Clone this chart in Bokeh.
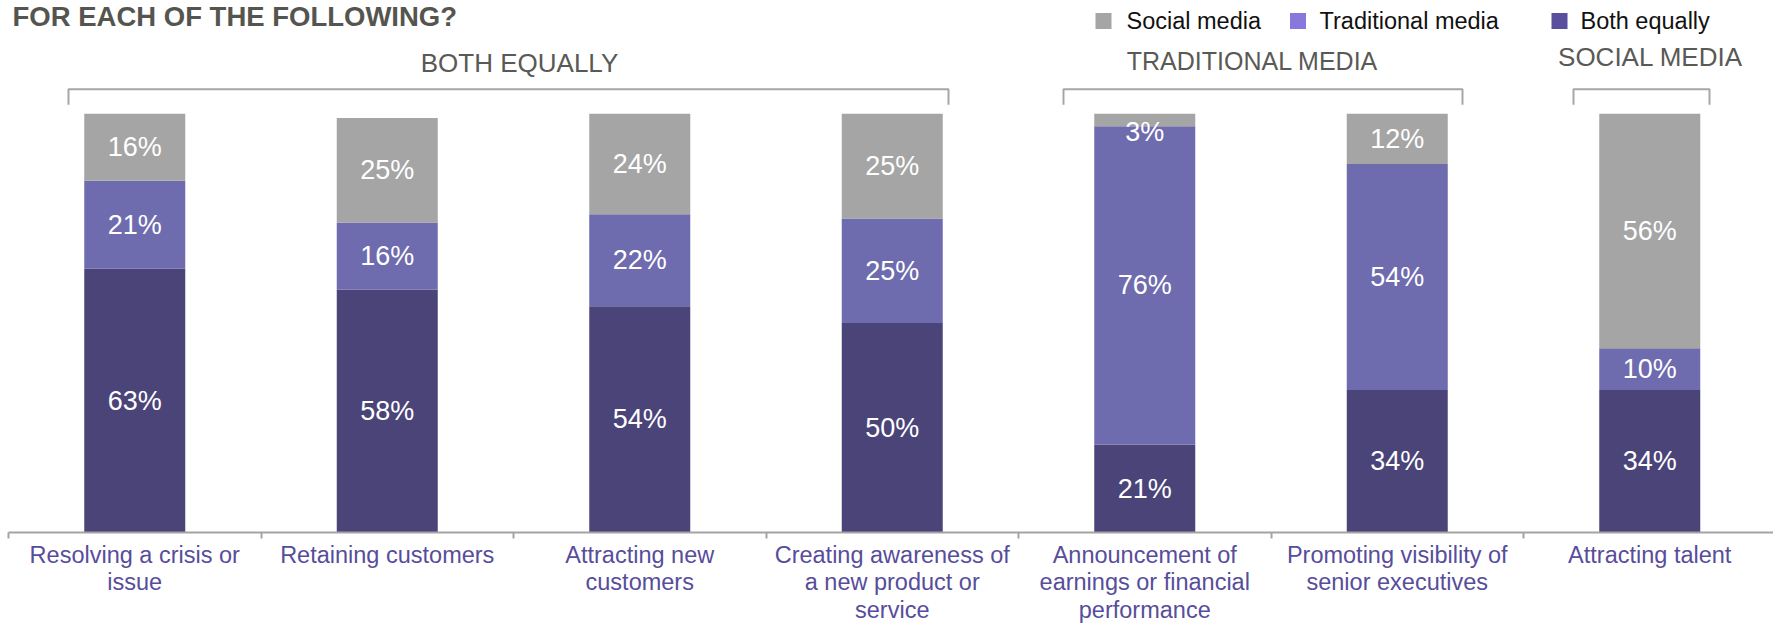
from bokeh.plotting import figure
from bokeh.models import Range1d, FixedTicker, LinearAxis, ColumnDataSource
from bokeh.core.properties import value
from bokeh.embed import file_html
from bokeh.resources import INLINE

# ---------------- data ----------------
categories = [
    "Resolving a crisis or\nissue",
    "Retaining customers",
    "Attracting new\ncustomers",
    "Creating awareness of\na new product or\nservice",
    "Announcement of\nearnings or financial\nperformance",
    "Promoting visibility of\nsenior executives",
    "Attracting talent",
]
both_equally = [63, 58, 54, 50, 21, 34, 34]
traditional_media = [21, 16, 22, 25, 76, 54, 10]
social_media = [16, 25, 24, 25, 3, 12, 56]
series_names = ["Social media", "Traditional media", "Both equally"]
group_names = ["BOTH EQUALLY", "TRADITIONAL MEDIA", "SOCIAL MEDIA"]
title_text = "FOR EACH OF THE FOLLOWING?"

# ---------------- style / layout ----------------
W, H = 1773, 626
LEFT = 8
AXIS_Y = 531                 # canvas px of axis line
PX_PER_UNIT = 4.18
CAT_W = 252.5
Y_TOP = AXIS_Y / PX_PER_UNIT
X_END = (W - LEFT) / CAT_W
FONT = "Liberation Sans"

bar_colors = ["#a5a5a5", "#6e6bae", "#4a4478"]
legend_colors = ["#a5a5a5", "#8878de", "#5a4f9e"]
label_purple = "#574d9b"
gray_text = "#595955"
bracket_color = "#a6a6a6"


def px_x(cx):
    return (cx - LEFT) / CAT_W


def px_y(cy):
    return (AXIS_Y - cy) / PX_PER_UNIT


p = figure(width=W, height=H, x_range=Range1d(0, X_END), y_range=Range1d(0, Y_TOP),
           output_backend="svg", toolbar_location=None,
           min_border_left=LEFT, min_border_right=0, min_border_top=0, min_border_bottom=0,
           x_axis_location=None, y_axis_location=None, background_fill_color="white")
p.grid.visible = False
p.outline_line_color = None

# stacked bars
xs = [i + 0.5 for i in range(len(categories))]
b0 = [0] * len(xs)
t0 = list(both_equally)
t1 = [a + b for a, b in zip(t0, traditional_media)]
t2 = [a + b for a, b in zip(t1, social_media)]
segments = [
    (b0, t0, bar_colors[2], both_equally),
    (t0, t1, bar_colors[1], traditional_media),
    (t1, t2, bar_colors[0], social_media),
]
BAR_W = 0.40
for bottoms, tops, color, vals in segments:
    src = ColumnDataSource(dict(x=xs, bottom=bottoms, top=tops))
    p.vbar(x="x", bottom="bottom", top="top", width=BAR_W, source=src,
           fill_color=color, line_color=None)

# value labels (kept inside the bar top)
lx, ly, lt = [], [], []
for bottoms, tops, color, vals in segments:
    for i, (b, t, v) in enumerate(zip(bottoms, tops, vals)):
        mid = min((b + t) / 2, t2[i] - 4.3)
        lx.append(xs[i])
        ly.append(mid)
        lt.append(f"{v}%")
p.text(x=lx, y=ly, text=lt, text_align="center", text_baseline="middle",
       text_color="white", text_font=value(FONT), text_font_size="27px")

# x axis: labels at centres, tick marks at category boundaries
xaxis = LinearAxis(
    ticker=FixedTicker(ticks=xs, minor_ticks=list(range(len(categories) + 1))),
    major_label_overrides={x: c for x, c in zip(xs, categories)},
)
xaxis.axis_line_color = "#a3a3a3"
xaxis.axis_line_width = 2
xaxis.major_tick_in = 0
xaxis.major_tick_out = 0
xaxis.major_tick_line_color = None
xaxis.minor_tick_in = 0
xaxis.minor_tick_out = 6
xaxis.minor_tick_line_color = "#a3a3a3"
xaxis.minor_tick_line_width = 2
xaxis.major_label_standoff = 3
xaxis.major_label_text_font = FONT
xaxis.major_label_text_font_size = "23.5px"
xaxis.major_label_text_color = label_purple
xaxis.major_label_text_line_height = 1.07
p.add_layout(xaxis, "below")

# group brackets and labels
bracket_left = [68, 1063, 1573]
bracket_right = [948, 1462, 1709]
group_label_cx = [519, 1252, 1650]
group_label_cy = [62, 60, 56]
group_label_size = ["26px", "25px", "26px"]
y_line = px_y(88.5)
y_end = px_y(104)
for xl_px, xr_px in zip(bracket_left, bracket_right):
    xl, xr = px_x(xl_px), px_x(xr_px)
    p.line(x=[xl, xl, xr, xr], y=[y_end, y_line, y_line, y_end],
           line_color=bracket_color, line_width=2)
gsrc = ColumnDataSource(dict(x=[px_x(v) for v in group_label_cx],
                             y=[px_y(v) for v in group_label_cy],
                             t=group_names, s=group_label_size))
p.text(x="x", y="y", text="t", source=gsrc, text_align="center", text_baseline="middle",
       text_color=gray_text, text_font=value(FONT), text_font_size="s")

# legend
sq_cx = [1103, 1297.5, 1559]
txt_cx = [1126, 1319, 1580]
leg_y = px_y(20.5)
p.scatter(x=[px_x(v) for v in sq_cx], y=[leg_y] * 3, marker="square", size=16,
          fill_color=legend_colors, line_color=None)
p.text(x=[px_x(v) for v in txt_cx], y=[leg_y] * 3, text=series_names,
       text_align="left", text_baseline="middle", text_color="#111111",
       text_font=value(FONT), text_font_size="23.5px")

# title (kept just inside the top edge)
p.text(x=[px_x(12)], y=[px_y(0)], text=[title_text], text_align="left",
       text_baseline="top", text_color="#555550", text_font=value(FONT),
       text_font_size="27.5px", text_font_style="bold")

open("out.html", "w").write(file_html(p, INLINE))
